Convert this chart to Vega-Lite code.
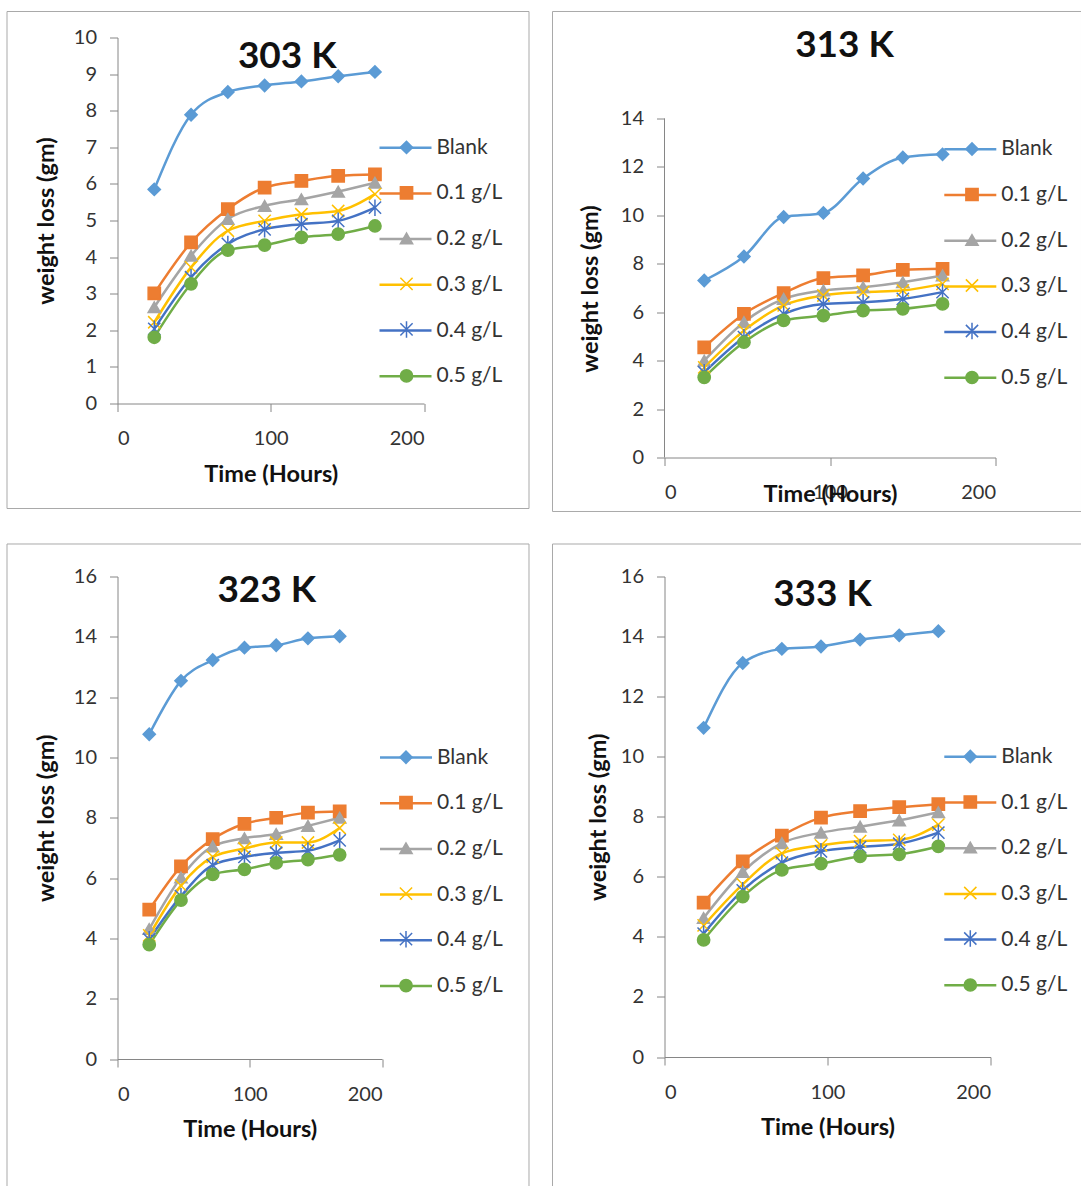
{
  "$schema": "https://vega.github.io/schema/vega-lite/v6.json",
  "padding": {"left": 6.5, "top": 10.5, "right": 0, "bottom": 0},
  "background": "white",
  "data": {"values": [
    {"panel":"303 K","series":"Blank","time":24,"loss":5.85},{"panel":"303 K","series":"Blank","time":48,"loss":7.89},{"panel":"303 K","series":"Blank","time":72,"loss":8.51},{"panel":"303 K","series":"Blank","time":96,"loss":8.69},{"panel":"303 K","series":"Blank","time":120,"loss":8.80},{"panel":"303 K","series":"Blank","time":144,"loss":8.94},{"panel":"303 K","series":"Blank","time":168,"loss":9.06},
    {"panel":"303 K","series":"0.1 g/L","time":24,"loss":3.01},{"panel":"303 K","series":"0.1 g/L","time":48,"loss":4.40},{"panel":"303 K","series":"0.1 g/L","time":72,"loss":5.31},{"panel":"303 K","series":"0.1 g/L","time":96,"loss":5.90},{"panel":"303 K","series":"0.1 g/L","time":120,"loss":6.08},{"panel":"303 K","series":"0.1 g/L","time":144,"loss":6.22},{"panel":"303 K","series":"0.1 g/L","time":168,"loss":6.26},
    {"panel":"303 K","series":"0.2 g/L","time":24,"loss":2.63},{"panel":"303 K","series":"0.2 g/L","time":48,"loss":4.04},{"panel":"303 K","series":"0.2 g/L","time":72,"loss":5.04},{"panel":"303 K","series":"0.2 g/L","time":96,"loss":5.40},{"panel":"303 K","series":"0.2 g/L","time":120,"loss":5.58},{"panel":"303 K","series":"0.2 g/L","time":144,"loss":5.79},{"panel":"303 K","series":"0.2 g/L","time":168,"loss":6.03},
    {"panel":"303 K","series":"0.3 g/L","time":24,"loss":2.22},{"panel":"303 K","series":"0.3 g/L","time":48,"loss":3.72},{"panel":"303 K","series":"0.3 g/L","time":72,"loss":4.72},{"panel":"303 K","series":"0.3 g/L","time":96,"loss":4.99},{"panel":"303 K","series":"0.3 g/L","time":120,"loss":5.17},{"panel":"303 K","series":"0.3 g/L","time":144,"loss":5.26},{"panel":"303 K","series":"0.3 g/L","time":168,"loss":5.72},
    {"panel":"303 K","series":"0.4 g/L","time":24,"loss":2.04},{"panel":"303 K","series":"0.4 g/L","time":48,"loss":3.45},{"panel":"303 K","series":"0.4 g/L","time":72,"loss":4.36},{"panel":"303 K","series":"0.4 g/L","time":96,"loss":4.76},{"panel":"303 K","series":"0.4 g/L","time":120,"loss":4.90},{"panel":"303 K","series":"0.4 g/L","time":144,"loss":4.99},{"panel":"303 K","series":"0.4 g/L","time":168,"loss":5.35},
    {"panel":"303 K","series":"0.5 g/L","time":24,"loss":1.81},{"panel":"303 K","series":"0.5 g/L","time":48,"loss":3.27},{"panel":"303 K","series":"0.5 g/L","time":72,"loss":4.19},{"panel":"303 K","series":"0.5 g/L","time":96,"loss":4.33},{"panel":"303 K","series":"0.5 g/L","time":120,"loss":4.54},{"panel":"303 K","series":"0.5 g/L","time":144,"loss":4.63},{"panel":"303 K","series":"0.5 g/L","time":168,"loss":4.85},

    {"panel":"313 K","series":"Blank","time":24,"loss":7.31},{"panel":"313 K","series":"Blank","time":48,"loss":8.30},{"panel":"313 K","series":"Blank","time":72,"loss":9.93},{"panel":"313 K","series":"Blank","time":96,"loss":10.10},{"panel":"313 K","series":"Blank","time":120,"loss":11.52},{"panel":"313 K","series":"Blank","time":144,"loss":12.39},{"panel":"313 K","series":"Blank","time":168,"loss":12.52},
    {"panel":"313 K","series":"0.1 g/L","time":24,"loss":4.55},{"panel":"313 K","series":"0.1 g/L","time":48,"loss":5.93},{"panel":"313 K","series":"0.1 g/L","time":72,"loss":6.79},{"panel":"313 K","series":"0.1 g/L","time":96,"loss":7.41},{"panel":"313 K","series":"0.1 g/L","time":120,"loss":7.52},{"panel":"313 K","series":"0.1 g/L","time":144,"loss":7.75},{"panel":"313 K","series":"0.1 g/L","time":168,"loss":7.79},
    {"panel":"313 K","series":"0.2 g/L","time":24,"loss":4.00},{"panel":"313 K","series":"0.2 g/L","time":48,"loss":5.59},{"panel":"313 K","series":"0.2 g/L","time":72,"loss":6.55},{"panel":"313 K","series":"0.2 g/L","time":96,"loss":6.90},{"panel":"313 K","series":"0.2 g/L","time":120,"loss":7.03},{"panel":"313 K","series":"0.2 g/L","time":144,"loss":7.24},{"panel":"313 K","series":"0.2 g/L","time":168,"loss":7.52},
    {"panel":"313 K","series":"0.3 g/L","time":24,"loss":3.72},{"panel":"313 K","series":"0.3 g/L","time":48,"loss":5.24},{"panel":"313 K","series":"0.3 g/L","time":72,"loss":6.28},{"panel":"313 K","series":"0.3 g/L","time":96,"loss":6.69},{"panel":"313 K","series":"0.3 g/L","time":120,"loss":6.83},{"panel":"313 K","series":"0.3 g/L","time":144,"loss":6.90},{"panel":"313 K","series":"0.3 g/L","time":168,"loss":7.17},
    {"panel":"313 K","series":"0.4 g/L","time":24,"loss":3.52},{"panel":"313 K","series":"0.4 g/L","time":48,"loss":4.97},{"panel":"313 K","series":"0.4 g/L","time":72,"loss":5.93},{"panel":"313 K","series":"0.4 g/L","time":96,"loss":6.34},{"panel":"313 K","series":"0.4 g/L","time":120,"loss":6.41},{"panel":"313 K","series":"0.4 g/L","time":144,"loss":6.55},{"panel":"313 K","series":"0.4 g/L","time":168,"loss":6.83},
    {"panel":"313 K","series":"0.5 g/L","time":24,"loss":3.31},{"panel":"313 K","series":"0.5 g/L","time":48,"loss":4.76},{"panel":"313 K","series":"0.5 g/L","time":72,"loss":5.66},{"panel":"313 K","series":"0.5 g/L","time":96,"loss":5.86},{"panel":"313 K","series":"0.5 g/L","time":120,"loss":6.07},{"panel":"313 K","series":"0.5 g/L","time":144,"loss":6.14},{"panel":"313 K","series":"0.5 g/L","time":168,"loss":6.34},

    {"panel":"323 K","series":"Blank","time":24,"loss":10.77},{"panel":"323 K","series":"Blank","time":48,"loss":12.54},{"panel":"323 K","series":"Blank","time":72,"loss":13.23},{"panel":"323 K","series":"Blank","time":96,"loss":13.64},{"panel":"323 K","series":"Blank","time":120,"loss":13.72},{"panel":"323 K","series":"Blank","time":144,"loss":13.95},{"panel":"323 K","series":"Blank","time":168,"loss":14.02},
    {"panel":"323 K","series":"0.1 g/L","time":24,"loss":4.95},{"panel":"323 K","series":"0.1 g/L","time":48,"loss":6.39},{"panel":"323 K","series":"0.1 g/L","time":72,"loss":7.29},{"panel":"323 K","series":"0.1 g/L","time":96,"loss":7.80},{"panel":"323 K","series":"0.1 g/L","time":120,"loss":8.00},{"panel":"323 K","series":"0.1 g/L","time":144,"loss":8.17},{"panel":"323 K","series":"0.1 g/L","time":168,"loss":8.21},
    {"panel":"323 K","series":"0.2 g/L","time":24,"loss":4.31},{"panel":"323 K","series":"0.2 g/L","time":48,"loss":6.02},{"panel":"323 K","series":"0.2 g/L","time":72,"loss":7.05},{"panel":"323 K","series":"0.2 g/L","time":96,"loss":7.32},{"panel":"323 K","series":"0.2 g/L","time":120,"loss":7.46},{"panel":"323 K","series":"0.2 g/L","time":144,"loss":7.73},{"panel":"323 K","series":"0.2 g/L","time":168,"loss":8.00},
    {"panel":"323 K","series":"0.3 g/L","time":24,"loss":4.10},{"panel":"323 K","series":"0.3 g/L","time":48,"loss":5.75},{"panel":"323 K","series":"0.3 g/L","time":72,"loss":6.70},{"panel":"323 K","series":"0.3 g/L","time":96,"loss":6.98},{"panel":"323 K","series":"0.3 g/L","time":120,"loss":7.18},{"panel":"323 K","series":"0.3 g/L","time":144,"loss":7.18},{"panel":"323 K","series":"0.3 g/L","time":168,"loss":7.66},
    {"panel":"323 K","series":"0.4 g/L","time":24,"loss":3.97},{"panel":"323 K","series":"0.4 g/L","time":48,"loss":5.40},{"panel":"323 K","series":"0.4 g/L","time":72,"loss":6.43},{"panel":"323 K","series":"0.4 g/L","time":96,"loss":6.70},{"panel":"323 K","series":"0.4 g/L","time":120,"loss":6.84},{"panel":"323 K","series":"0.4 g/L","time":144,"loss":6.91},{"panel":"323 K","series":"0.4 g/L","time":168,"loss":7.25},
    {"panel":"323 K","series":"0.5 g/L","time":24,"loss":3.79},{"panel":"323 K","series":"0.5 g/L","time":48,"loss":5.27},{"panel":"323 K","series":"0.5 g/L","time":72,"loss":6.12},{"panel":"323 K","series":"0.5 g/L","time":96,"loss":6.29},{"panel":"323 K","series":"0.5 g/L","time":120,"loss":6.50},{"panel":"323 K","series":"0.5 g/L","time":144,"loss":6.61},{"panel":"323 K","series":"0.5 g/L","time":168,"loss":6.77},

    {"panel":"333 K","series":"Blank","time":24,"loss":10.96},{"panel":"333 K","series":"Blank","time":48,"loss":13.12},{"panel":"333 K","series":"Blank","time":72,"loss":13.59},{"panel":"333 K","series":"Blank","time":96,"loss":13.67},{"panel":"333 K","series":"Blank","time":120,"loss":13.90},{"panel":"333 K","series":"Blank","time":144,"loss":14.04},{"panel":"333 K","series":"Blank","time":168,"loss":14.18},
    {"panel":"333 K","series":"0.1 g/L","time":24,"loss":5.14},{"panel":"333 K","series":"0.1 g/L","time":48,"loss":6.51},{"panel":"333 K","series":"0.1 g/L","time":72,"loss":7.37},{"panel":"333 K","series":"0.1 g/L","time":96,"loss":7.97},{"panel":"333 K","series":"0.1 g/L","time":120,"loss":8.19},{"panel":"333 K","series":"0.1 g/L","time":144,"loss":8.32},{"panel":"333 K","series":"0.1 g/L","time":168,"loss":8.42},
    {"panel":"333 K","series":"0.2 g/L","time":24,"loss":4.63},{"panel":"333 K","series":"0.2 g/L","time":48,"loss":6.16},{"panel":"333 K","series":"0.2 g/L","time":72,"loss":7.12},{"panel":"333 K","series":"0.2 g/L","time":96,"loss":7.47},{"panel":"333 K","series":"0.2 g/L","time":120,"loss":7.67},{"panel":"333 K","series":"0.2 g/L","time":144,"loss":7.88},{"panel":"333 K","series":"0.2 g/L","time":168,"loss":8.15},
    {"panel":"333 K","series":"0.3 g/L","time":24,"loss":4.38},{"panel":"333 K","series":"0.3 g/L","time":48,"loss":5.75},{"panel":"333 K","series":"0.3 g/L","time":72,"loss":6.78},{"panel":"333 K","series":"0.3 g/L","time":96,"loss":7.05},{"panel":"333 K","series":"0.3 g/L","time":120,"loss":7.19},{"panel":"333 K","series":"0.3 g/L","time":144,"loss":7.23},{"panel":"333 K","series":"0.3 g/L","time":168,"loss":7.74},
    {"panel":"333 K","series":"0.4 g/L","time":24,"loss":4.11},{"panel":"333 K","series":"0.4 g/L","time":48,"loss":5.55},{"panel":"333 K","series":"0.4 g/L","time":72,"loss":6.47},{"panel":"333 K","series":"0.4 g/L","time":96,"loss":6.85},{"panel":"333 K","series":"0.4 g/L","time":120,"loss":6.99},{"panel":"333 K","series":"0.4 g/L","time":144,"loss":7.10},{"panel":"333 K","series":"0.4 g/L","time":168,"loss":7.47},
    {"panel":"333 K","series":"0.5 g/L","time":24,"loss":3.90},{"panel":"333 K","series":"0.5 g/L","time":48,"loss":5.34},{"panel":"333 K","series":"0.5 g/L","time":72,"loss":6.23},{"panel":"333 K","series":"0.5 g/L","time":96,"loss":6.44},{"panel":"333 K","series":"0.5 g/L","time":120,"loss":6.68},{"panel":"333 K","series":"0.5 g/L","time":144,"loss":6.75},{"panel":"333 K","series":"0.5 g/L","time":168,"loss":7.01}
  ]},
  "concat": [
    {
      "width": 306.5, "height": 366,
      "title": {"text": "303 K", "offset": -65.3, "dx": 16.5},
      "encoding": {
        "x": {"field": "time", "type": "quantitative", "scale": {"domain": [0, 200], "nice": false}, "axis": {"title": "Time (Hours)", "values": [0, 100, 200], "titleY": 78}},
        "y": {"field": "loss", "type": "quantitative", "scale": {"domain": [0, 10], "nice": false}, "axis": {"title": "weight loss (gm)", "values": [0,1,2,3,4,5,6,7,8,9,10], "titleX": -64.5}}
      },
      "layer": [
        {"transform": [{"filter": "datum.panel === '303 K' && datum.series === 'Blank' && datum.time === 24"}],
         "mark": {"type": "rect", "filled": false, "stroke": "#A9A9A9", "strokeWidth": 1},
         "encoding": {"x": {"datum": -72.1, "type": "quantitative"}, "x2": {"datum": 268.52}, "y": {"datum": 10.71, "type": "quantitative"}, "y2": {"datum": -2.869}}},
        {"transform": [{"filter": "datum.panel === '303 K'"}],
         "mark": {"type": "line", "interpolate": "monotone", "strokeWidth": 2.5},
         "encoding": {"color": {"field": "series", "type": "nominal", "title": null,
           "scale": {"domain": ["0.5 g/L","0.4 g/L","0.3 g/L","0.2 g/L","0.1 g/L","Blank"], "range": ["#70AD47","#4472C4","#FFC000","#A5A5A5","#ED7D31","#5B9BD5"]},
           "legend": {"orient": "none", "legendX": 260.5, "legendY": 82.7, "title": null, "symbolType": "stroke", "symbolSize": 2704, "symbolStrokeWidth": 2.5, "rowPadding": 7.7, "values": ["Blank","0.1 g/L","0.2 g/L","0.3 g/L","0.4 g/L","0.5 g/L"]}}}},
        {"transform": [{"filter": "datum.panel === '303 K'"}],
         "mark": {"type": "point", "filled": false, "strokeWidth": 1.5, "size": 150, "opacity": 1},
         "encoding": {
           "stroke": {"field": "series", "type": "nominal", "title": null, "scale": {"domain": ["Blank","0.1 g/L","0.2 g/L","0.3 g/L","0.4 g/L","0.5 g/L"], "range": ["#5B9BD5","#ED7D31","#A5A5A5","#FFC000","#4472C4","#70AD47"]},
             "legend": {"orient": "none", "legendX": 278.5, "legendY": 99.4, "title": null, "symbolSize": 150, "symbolStrokeWidth": 1.5, "rowPadding": 23.5, "labelExpr": "' '"}},
           "fill": {"field": "series", "type": "nominal", "title": null, "scale": {"domain": ["Blank","0.1 g/L","0.2 g/L","0.3 g/L","0.4 g/L","0.5 g/L"], "range": ["#5B9BD5","#ED7D31","#A5A5A5","#FFC000","#4472C4","#70AD47"]},
             "legend": {"orient": "none", "legendX": 278.5, "legendY": 99.4, "title": null, "symbolSize": 150, "symbolStrokeWidth": 1.5, "rowPadding": 23.5, "labelExpr": "' '"}},
           "shape": {"field": "series", "type": "nominal", "title": null, "scale": {"domain": ["Blank","0.1 g/L","0.2 g/L","0.3 g/L","0.4 g/L","0.5 g/L"], "range": ["diamond","square","triangle-up","M-1,-1L1,1M-1,1L1,-1","M-1,-1L1,1M-1,1L1,-1M0,-1.35L0,1.35","circle"]},
             "legend": {"orient": "none", "legendX": 278.5, "legendY": 99.4, "title": null, "symbolSize": 150, "symbolStrokeWidth": 1.5, "rowPadding": 23.5, "labelExpr": "' '"}}
         }}
      ]
    },
    {
      "width": 331, "height": 420,
      "title": {"text": "313 K", "offset": -54.3, "dx": 14.5},
      "encoding": {
        "x": {"field": "time", "type": "quantitative", "scale": {"domain": [0, 200], "nice": false}, "axis": {"title": "Time (Hours)", "values": [0, 100, 200], "titleY": 44}},
        "y": {"field": "loss", "type": "quantitative", "scale": {"domain": [0, 17.345], "nice": false}, "axis": {"title": "weight loss (gm)", "values": [0,2,4,6,8,10,12,14], "domain": false, "titleX": -67, "titleY": 251}}
      },
      "layer": [
        {"transform": [{"filter": "datum.panel === '313 K' && datum.series === 'Blank' && datum.time === 24"}],
         "mark": {"type": "rect", "filled": false, "stroke": "#A9A9A9", "strokeWidth": 1},
         "encoding": {"x": {"datum": -67.67, "type": "quantitative"}, "x2": {"datum": 251.96}, "y": {"datum": 18.419, "type": "quantitative"}, "y2": {"datum": -2.23}}},
        {"transform": [{"filter": "datum.panel === '313 K' && datum.series === 'Blank' && datum.time === 24"}],
         "mark": {"type": "rule", "color": "#868686", "strokeWidth": 1},
         "encoding": {"x": {"datum": 0, "type": "quantitative"}, "y": {"datum": 0, "type": "quantitative"}, "y2": {"datum": 14}}},
        {"transform": [{"filter": "datum.panel === '313 K'"}],
         "mark": {"type": "line", "interpolate": "monotone", "strokeWidth": 2.5},
         "encoding": {"color": {"field": "series", "type": "nominal", "title": null,
           "scale": {"domain": ["0.5 g/L","0.4 g/L","0.3 g/L","0.2 g/L","0.1 g/L","Blank"], "range": ["#70AD47","#4472C4","#FFC000","#A5A5A5","#ED7D31","#5B9BD5"]},
           "legend": {"orient": "none", "legendX": 278.3, "legendY": 84.3, "title": null, "symbolType": "stroke", "symbolSize": 2704, "symbolStrokeWidth": 2.5, "rowPadding": 7.7, "values": ["Blank","0.1 g/L","0.2 g/L","0.3 g/L","0.4 g/L","0.5 g/L"]}}}},
        {"transform": [{"filter": "datum.panel === '313 K'"}],
         "mark": {"type": "point", "filled": false, "strokeWidth": 1.5, "size": 150, "opacity": 1},
         "encoding": {
           "stroke": {"field": "series", "type": "nominal", "title": null, "scale": {"domain": ["Blank","0.1 g/L","0.2 g/L","0.3 g/L","0.4 g/L","0.5 g/L"], "range": ["#5B9BD5","#ED7D31","#A5A5A5","#FFC000","#4472C4","#70AD47"]},
             "legend": {"orient": "none", "legendX": 297, "legendY": 101, "title": null, "symbolSize": 150, "symbolStrokeWidth": 1.5, "rowPadding": 23.5, "labelExpr": "' '"}},
           "fill": {"field": "series", "type": "nominal", "title": null, "scale": {"domain": ["Blank","0.1 g/L","0.2 g/L","0.3 g/L","0.4 g/L","0.5 g/L"], "range": ["#5B9BD5","#ED7D31","#A5A5A5","#FFC000","#4472C4","#70AD47"]},
             "legend": {"orient": "none", "legendX": 297, "legendY": 101, "title": null, "symbolSize": 150, "symbolStrokeWidth": 1.5, "rowPadding": 23.5, "labelExpr": "' '"}},
           "shape": {"field": "series", "type": "nominal", "title": null, "scale": {"domain": ["Blank","0.1 g/L","0.2 g/L","0.3 g/L","0.4 g/L","0.5 g/L"], "range": ["diamond","square","triangle-up","M-1,-1L1,1M-1,1L1,-1","M-1,-1L1,1M-1,1L1,-1M0,-1.35L0,1.35","circle"]},
             "legend": {"orient": "none", "legendX": 297, "legendY": 101, "title": null, "symbolSize": 150, "symbolStrokeWidth": 1.5, "rowPadding": 23.5, "labelExpr": "' '"}}
         }}
      ]
    },
    {
      "width": 264.5, "height": 482.5,
      "title": {"text": "323 K", "offset": -66.3, "dx": 17},
      "encoding": {
        "x": {"field": "time", "type": "quantitative", "scale": {"domain": [0, 200], "nice": false}, "axis": {"title": "Time (Hours)", "values": [0, 100, 200], "titleY": 77}},
        "y": {"field": "loss", "type": "quantitative", "scale": {"domain": [0, 16], "nice": false}, "axis": {"title": "weight loss (gm)", "values": [0,2,4,6,8,10,12,14,16], "titleX": -64.5}}
      },
      "layer": [
        {"transform": [{"filter": "datum.panel === '323 K' && datum.series === 'Blank' && datum.time === 24"}],
         "mark": {"type": "rect", "filled": false, "stroke": "#A9A9A9", "strokeWidth": 1},
         "encoding": {"x": {"datum": -83.55, "type": "quantitative"}, "x2": {"datum": 311.15}, "y": {"datum": 17.078, "type": "quantitative"}, "y2": {"datum": -4.41}}},
        {"transform": [{"filter": "datum.panel === '323 K'"}],
         "mark": {"type": "line", "interpolate": "monotone", "strokeWidth": 2.5},
         "encoding": {"color": {"field": "series", "type": "nominal", "title": null,
           "scale": {"domain": ["0.5 g/L","0.4 g/L","0.3 g/L","0.2 g/L","0.1 g/L","Blank"], "range": ["#70AD47","#4472C4","#FFC000","#A5A5A5","#ED7D31","#5B9BD5"]},
           "legend": {"orient": "none", "legendX": 261, "legendY": 153.5, "title": null, "symbolType": "stroke", "symbolSize": 2704, "symbolStrokeWidth": 2.5, "rowPadding": 7.7, "values": ["Blank","0.1 g/L","0.2 g/L","0.3 g/L","0.4 g/L","0.5 g/L"]}}}},
        {"transform": [{"filter": "datum.panel === '323 K'"}],
         "mark": {"type": "point", "filled": false, "strokeWidth": 1.5, "size": 150, "opacity": 1},
         "encoding": {
           "stroke": {"field": "series", "type": "nominal", "title": null, "scale": {"domain": ["Blank","0.1 g/L","0.2 g/L","0.3 g/L","0.4 g/L","0.5 g/L"], "range": ["#5B9BD5","#ED7D31","#A5A5A5","#FFC000","#4472C4","#70AD47"]},
             "legend": {"orient": "none", "legendX": 278, "legendY": 170.2, "title": null, "symbolSize": 150, "symbolStrokeWidth": 1.5, "rowPadding": 23.5, "labelExpr": "' '"}},
           "fill": {"field": "series", "type": "nominal", "title": null, "scale": {"domain": ["Blank","0.1 g/L","0.2 g/L","0.3 g/L","0.4 g/L","0.5 g/L"], "range": ["#5B9BD5","#ED7D31","#A5A5A5","#FFC000","#4472C4","#70AD47"]},
             "legend": {"orient": "none", "legendX": 278, "legendY": 170.2, "title": null, "symbolSize": 150, "symbolStrokeWidth": 1.5, "rowPadding": 23.5, "labelExpr": "' '"}},
           "shape": {"field": "series", "type": "nominal", "title": null, "scale": {"domain": ["Blank","0.1 g/L","0.2 g/L","0.3 g/L","0.4 g/L","0.5 g/L"], "range": ["diamond","square","triangle-up","M-1,-1L1,1M-1,1L1,-1","M-1,-1L1,1M-1,1L1,-1M0,-1.35L0,1.35","circle"]},
             "legend": {"orient": "none", "legendX": 278, "legendY": 170.2, "title": null, "symbolSize": 150, "symbolStrokeWidth": 1.5, "rowPadding": 23.5, "labelExpr": "' '"}}
         }}
      ]
    },
    {
      "width": 326, "height": 480.5,
      "title": {"text": "333 K", "offset": -70.3, "dx": -5},
      "encoding": {
        "x": {"field": "time", "type": "quantitative", "scale": {"domain": [0, 200], "nice": false}, "axis": {"title": "Time (Hours)", "values": [0, 100, 200], "titleY": 77}},
        "y": {"field": "loss", "type": "quantitative", "scale": {"domain": [0, 16], "nice": false}, "axis": {"title": "weight loss (gm)", "values": [0,2,4,6,8,10,12,14,16], "titleX": -59}}
      },
      "layer": [
        {"transform": [{"filter": "datum.panel === '333 K' && datum.series === 'Blank' && datum.time === 24"}],
         "mark": {"type": "rect", "filled": false, "stroke": "#A9A9A9", "strokeWidth": 1},
         "encoding": {"x": {"datum": -68.71, "type": "quantitative"}, "x2": {"datum": 255.83}, "y": {"datum": 17.082, "type": "quantitative"}, "y2": {"datum": -4.495}}},
        {"transform": [{"filter": "datum.panel === '333 K'"}],
         "mark": {"type": "line", "interpolate": "monotone", "strokeWidth": 2.5},
         "encoding": {"color": {"field": "series", "type": "nominal", "title": null,
           "scale": {"domain": ["0.5 g/L","0.4 g/L","0.3 g/L","0.2 g/L","0.1 g/L","Blank"], "range": ["#70AD47","#4472C4","#FFC000","#A5A5A5","#ED7D31","#5B9BD5"]},
           "legend": {"orient": "none", "legendX": 278.3, "legendY": 152.8, "title": null, "symbolType": "stroke", "symbolSize": 2704, "symbolStrokeWidth": 2.5, "rowPadding": 7.7, "values": ["Blank","0.1 g/L","0.2 g/L","0.3 g/L","0.4 g/L","0.5 g/L"]}}}},
        {"transform": [{"filter": "datum.panel === '333 K'"}],
         "mark": {"type": "point", "filled": false, "strokeWidth": 1.5, "size": 150, "opacity": 1},
         "encoding": {
           "stroke": {"field": "series", "type": "nominal", "title": null, "scale": {"domain": ["Blank","0.1 g/L","0.2 g/L","0.3 g/L","0.4 g/L","0.5 g/L"], "range": ["#5B9BD5","#ED7D31","#A5A5A5","#FFC000","#4472C4","#70AD47"]},
             "legend": {"orient": "none", "legendX": 295.3, "legendY": 169.5, "title": null, "symbolSize": 150, "symbolStrokeWidth": 1.5, "rowPadding": 23.5, "labelExpr": "' '"}},
           "fill": {"field": "series", "type": "nominal", "title": null, "scale": {"domain": ["Blank","0.1 g/L","0.2 g/L","0.3 g/L","0.4 g/L","0.5 g/L"], "range": ["#5B9BD5","#ED7D31","#A5A5A5","#FFC000","#4472C4","#70AD47"]},
             "legend": {"orient": "none", "legendX": 295.3, "legendY": 169.5, "title": null, "symbolSize": 150, "symbolStrokeWidth": 1.5, "rowPadding": 23.5, "labelExpr": "' '"}},
           "shape": {"field": "series", "type": "nominal", "title": null, "scale": {"domain": ["Blank","0.1 g/L","0.2 g/L","0.3 g/L","0.4 g/L","0.5 g/L"], "range": ["diamond","square","triangle-up","M-1,-1L1,1M-1,1L1,-1","M-1,-1L1,1M-1,1L1,-1M0,-1.35L0,1.35","circle"]},
             "legend": {"orient": "none", "legendX": 295.3, "legendY": 169.5, "title": null, "symbolSize": 150, "symbolStrokeWidth": 1.5, "rowPadding": 23.5, "labelExpr": "' '"}}
         }}
      ]
    }
  ],
  "columns": 2,
  "align": "each",
  "bounds": "full",
  "spacing": {"row": 30, "column": 21},
  "resolve": {
    "scale": {"x": "independent", "y": "independent", "color": "independent", "fill": "independent", "stroke": "independent", "shape": "independent"},
    "axis": {"x": "independent", "y": "independent"},
    "legend": {"color": "independent", "fill": "independent", "stroke": "independent", "shape": "independent"}
  },
  "config": {
    "font": "Lato",
    "view": {"stroke": null},
    "axis": {
      "grid": false, "domainColor": "#868686", "tickColor": "#868686", "domainWidth": 1, "tickWidth": 1, "tickSize": 8,
      "labelFont": "Lato", "labelFontSize": 20, "labelColor": "#333333",
      "titleFont": "Lato", "titleFontSize": 23.5, "titleFontWeight": "bold", "titleColor": "#111111", "titleBaseline": "alphabetic"
    },
    "axisX": {"labelPadding": 17},
    "axisY": {"labelPadding": 13},
    "legend": {"labelOffset": 3.5, "padding": 0, "labelFont": "Lato", "labelFontSize": 21, "labelColor": "#333333"},
    "title": {"font": "Lato", "fontSize": 37, "fontWeight": "bold", "color": "#111111", "anchor": "middle", "frame": "group", "baseline": "bottom"}
  }
}
